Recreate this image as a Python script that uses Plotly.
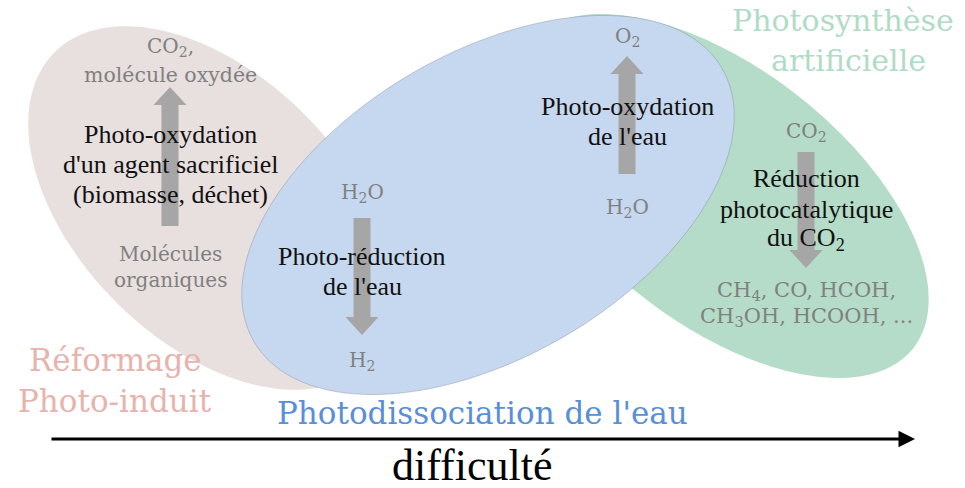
import numpy as np
import plotly.graph_objects as go

W, H = 965, 488

# Regions (ellipses): name, centre x, centre y, semi-major, semi-minor, angle (deg), fill
region_names = ["reformage", "photosynthese", "dissociation"]
region_cx = [210, 720, 488]
region_cy = [208, 196, 205]
region_a = [220, 246, 271]
region_b = [133, 127, 152]
region_ang = [45, 38.2, -30.3]
region_fill = ["#e8dfdf", "#b4dcc8", "#c6d8ef"]

# Process arrows: x, tail y, tip y
arrow_x = [170, 362, 627, 806]
arrow_tail = [226, 218, 174, 152]
arrow_tip = [87, 335, 56, 268]

# Grey species labels
species_text = ["CO<sub>2</sub>,", "molécule oxydée", "Molécules", "organiques",
                "H<sub>2</sub>O", "H<sub>2</sub>", "O<sub>2</sub>", "H<sub>2</sub>O",
                "CO<sub>2</sub>", "CH<sub>4</sub>, CO, HCOH,", "CH<sub>3</sub>OH, HCOOH, ..."]
species_x = [170, 170, 170, 170, 362, 362, 627, 627, 806, 806, 806]
species_y = [47, 75, 254, 280, 193, 361, 37, 208, 132, 291, 317]
species_size = [20, 20.5, 20, 20, 20, 20, 20, 20, 20, 21, 21]

# Black process labels
proc_text = ["Photo-oxydation", "d'un agent sacrificiel", "(biomasse, déchet)",
             "Photo-réduction", "de l'eau",
             "Photo-oxydation", "de l'eau",
             "Réduction", "photocatalytique", "du CO<sub>2</sub>"]
proc_x = [170, 170, 170, 362, 362, 627, 627, 806, 806, 806]
proc_y = [134, 164, 194, 256, 286, 106, 136, 178, 209, 239]

# Category titles
title_text = ["Réformage", "Photo-induit", "Photodissociation de l'eau", "Photosynthèse", "artificielle"]
title_x = [115, 115, 482, 843, 848]
title_y = [360, 401, 413, 20, 60]
title_size = [31, 31, 31, 30, 30]
title_color = ["#e8b3ac", "#e8b3ac", "#5a8fd8", "#b0dcc5", "#b0dcc5"]

axis_label = "difficulté"


def ellipse_path(cx, cy, a, b, ang, n=180):
    t = np.linspace(0, 2 * np.pi, n, endpoint=False)
    th = np.deg2rad(ang)
    u = a * np.cos(t)
    v = b * np.sin(t)
    xs = cx + u * np.cos(th) - v * np.sin(th)
    ys = cy + u * np.sin(th) + v * np.cos(th)
    return "M " + " L ".join(f"{x:.2f},{y:.2f}" for x, y in zip(xs, ys)) + " Z"


def arrow_path(x, tail, tip, sw=8.5, hw=16.5, hl=18):
    d = 1 if tip > tail else -1
    hb = tip - d * hl
    pts = [(x - sw, tail), (x - sw, hb), (x - hw, hb), (x, tip), (x + hw, hb), (x + sw, hb), (x + sw, tail)]
    return "M " + " L ".join(f"{px:.1f},{py:.1f}" for px, py in pts) + " Z"


fig = go.Figure()
shapes = []
for i in range(len(region_names)):
    line = dict(width=0)
    if region_names[i] == "dissociation":
        line = dict(width=1, color="rgba(110,120,140,0.35)")
    shapes.append(dict(type="path", xref="x", yref="y",
                       path=ellipse_path(region_cx[i], region_cy[i], region_a[i], region_b[i], region_ang[i]),
                       fillcolor=region_fill[i], line=line, layer="below"))
for i in range(len(arrow_x)):
    shapes.append(dict(type="path", xref="x", yref="y",
                       path=arrow_path(arrow_x[i], arrow_tail[i], arrow_tip[i]),
                       fillcolor="#a6a6a6", line=dict(width=0), layer="below"))

annotations = []
for t, x, y, s in zip(species_text, species_x, species_y, species_size):
    annotations.append(dict(x=x, y=y, text=t, showarrow=False, xref="x", yref="y",
                            font=dict(family="DejaVu Serif", size=s, color="#808080")))
for t, x, y in zip(proc_text, proc_x, proc_y):
    annotations.append(dict(x=x, y=y, text=t, showarrow=False, xref="x", yref="y",
                            font=dict(family="Liberation Serif", size=26, color="#111111")))
for t, x, y, s, c in zip(title_text, title_x, title_y, title_size, title_color):
    annotations.append(dict(x=x, y=y, text=t, showarrow=False, xref="x", yref="y",
                            font=dict(family="DejaVu Serif", size=s, color=c)))

# difficulty axis arrow
annotations.append(dict(x=915, y=439, ax=50, ay=439, xref="x", yref="y", axref="x", ayref="y",
                        text="", showarrow=True, arrowhead=2, arrowsize=1.1, arrowwidth=3,
                        arrowcolor="black"))
annotations.append(dict(x=472, y=465, text=axis_label, showarrow=False, xref="x", yref="y",
                        font=dict(family="Liberation Serif", size=44, color="black")))

fig.update_layout(
    width=W, height=H, margin=dict(l=0, r=0, t=0, b=0),
    paper_bgcolor="white", plot_bgcolor="white",
    xaxis=dict(range=[0, W], visible=False, fixedrange=True),
    yaxis=dict(range=[H, 0], visible=False, fixedrange=True),
    shapes=shapes, annotations=annotations, showlegend=False,
)
fig.write_html("out.html", config={"displayModeBar": False},
               post_script="document.body.style.margin='0';document.body.style.overflow='hidden';")
